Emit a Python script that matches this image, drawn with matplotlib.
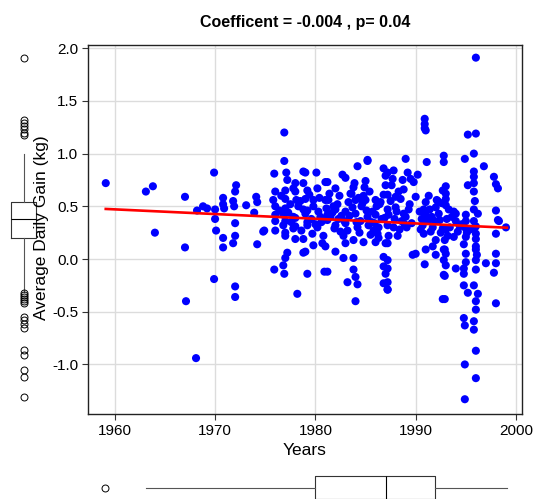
import numpy as np
import matplotlib
matplotlib.use('Agg')
import matplotlib.pyplot as plt

plt.rcParams['font.family'] = ['Liberation Sans', 'DejaVu Sans']
plt.rcParams['axes.unicode_minus'] = False

# datos (anio, ganancia diaria)
years = [
    1959.1, 1963.1, 1963.8, 1964.0, 1967.0, 1967.0, 1967.1, 1968.1, 1968.2, 1968.8,
    1969.2, 1969.9, 1970.0, 1970.0, 1970.1, 1969.9, 1970.8, 1970.8, 1970.9, 1970.8,
    1970.8, 1971.8, 1972.1, 1972.0, 1971.9, 1972.0, 1972.0, 1971.8, 1972.0, 1972.0,
    1973.1, 1974.1, 1974.2, 1973.9, 1974.2, 1974.9,
    # 1975 - 1981
    1976.9, 1976.9, 1975.9, 1977.1, 1977.2, 1978.8, 1980.1, 1981.0, 1978.0, 1978.8,
    1976.0, 1977.0, 1977.8, 1979.2, 1980.2, 1977.0, 1975.8, 1979.0, 1979.8, 1981.0,
    1976.0, 1977.0, 1978.8, 1979.8, 1976.0, 1976.8, 1977.8, 1979.0, 1980.5, 1981.2,
    1974.8, 1976.0, 1976.8, 1977.0, 1977.8, 1978.0, 1978.8, 1979.2, 1980.2, 1980.8,
    1980.7, 1979.8, 1978.8, 1981.0, 1977.2, 1977.0, 1976.8, 1975.9, 1976.9, 1979.2,
    1980.9, 1978.2, 1976.0, 1977.0, 1977.0, 1978.0, 1978.0, 1978.0, 1979.0, 1979.2,
    1979.2, 1979.0, 1978.5, 1980.3, 1980.6, 1977.5, 1976.4, 1979.6, 1980.0, 1981.1,
    1977.3, 1978.3, 1979.4, 1980.4, 1976.6, 1977.6, 1978.6, 1979.7, 1980.8, 1978.1,
    # 1981 - 1987
    1985.2, 1984.2, 1982.7, 1983.0, 1986.8, 1987.0, 1982.0, 1983.8, 1984.9, 1987.0,
    1981.2, 1981.3, 1983.3, 1984.0, 1985.0, 1986.0, 1986.8, 1982.0, 1983.0, 1984.0,
    1985.2, 1986.0, 1987.2, 1981.2, 1982.0, 1983.0, 1984.2, 1985.3, 1986.3, 1987.2,
    1982.8, 1983.8, 1984.8, 1986.0, 1987.0, 1983.0, 1982.0, 1982.8, 1983.8, 1986.8,
    1981.2, 1983.8, 1984.0, 1986.8, 1987.0, 1983.2, 1984.2, 1986.8, 1987.2, 1984.0,
    1985.2, 1982.4, 1983.5, 1984.6, 1985.7, 1986.4, 1981.7, 1982.3, 1983.4, 1984.5,
    1985.6, 1986.6, 1982.5, 1984.4, 1985.8, 1981.8, 1983.6, 1985.4, 1986.2, 1984.7,
    1981.5, 1982.2, 1982.9, 1983.7, 1984.3, 1985.1, 1985.9, 1986.5, 1981.9, 1982.6,
    1983.2, 1984.1, 1984.8, 1985.5, 1986.1, 1986.9, 1981.4, 1983.9, 1985.0, 1986.3,
    # 1987 - 1993
    1990.9, 1990.9, 1990.9, 1991.0, 1989.0, 1991.1, 1992.8, 1992.8, 1987.8, 1987.2,
    1989.2, 1990.2, 1988.7, 1989.8, 1989.5, 1987.7, 1988.3, 1988.8, 1987.2, 1990.0,
    1991.0, 1988.0, 1992.0, 1992.7, 1987.3, 1989.0, 1991.0, 1992.3, 1987.8, 1990.7,
    1991.7, 1992.7, 1987.3, 1988.2, 1990.8, 1992.0, 1987.2, 1991.7, 1990.0, 1989.7,
    1991.0, 1992.0, 1992.8, 1987.2, 1990.9, 1992.8, 1987.2, 1992.8, 1987.2, 1987.2,
    1992.7, 1988.5, 1989.4, 1991.4, 1992.4, 1988.6, 1990.6, 1991.3, 1992.2, 1988.9,
    1991.2, 1990.8, 1992.5, 1988.1, 1991.5, 1987.5, 1988.4, 1989.3, 1987.9, 1988.8,
    1989.6, 1991.6, 1992.1, 1990.5, 1991.9, 1987.6, 1988.0, 1989.1, 1992.6, 1990.4,
    # 1993 - 1999
    1996.0, 1995.2, 1996.0, 1995.8, 1994.9, 1996.8, 1995.8, 1995.8, 1997.8, 1998.0,
    1998.2, 1995.2, 1995.8, 1995.8, 1993.0, 1993.0, 1993.0, 1993.0, 1993.8, 1994.0,
    1995.8, 1996.2, 1998.0, 1998.2, 1998.3, 1995.0, 1995.8, 1996.0, 1994.0, 1994.2,
    1999.0, 1995.0, 1998.0, 1996.0, 1996.0, 1996.0, 1995.0, 1994.8, 1993.8, 1992.9,
    1992.9, 1998.0, 1996.0, 1996.0, 1995.0, 1995.0, 1994.8, 1994.8, 1997.0, 1998.0,
    1997.8, 1994.0, 1993.0, 1993.0, 1992.9, 1996.0, 1994.8, 1995.2, 1995.8, 1996.2,
    1996.0, 1996.0, 1998.0, 1992.9, 1994.8, 1994.9, 1995.8, 1995.8, 1996.0, 1994.9,
    1996.0, 1994.9, 1993.4, 1993.6, 1994.4, 1995.1, 1995.9, 1993.2, 1994.6, 1995.4,
    1993.1, 1993.3, 1995.9, 1996.1, 1993.0, 1995.0,
]

gain = [
    0.72, 0.64, 0.69, 0.25, 0.59, 0.11, -0.40, -0.94, 0.46, 0.50,
    0.48, 0.82, 0.47, 0.38, 0.27, -0.19, 0.58, 0.52, 0.48, 0.20,
    0.11, 0.55, 0.70, 0.64, 0.50, 0.34, 0.22, 0.15, -0.26, -0.36,
    0.51, 0.59, 0.54, 0.44, 0.14, 0.27,
    # 1975 - 1981
    1.20, 0.93, 0.81, 0.82, 0.75, 0.83, 0.82, 0.73, 0.72, 0.72,
    0.64, 0.65, 0.67, 0.65, 0.67, 0.57, 0.56, 0.57, 0.56, 0.56,
    0.50, 0.48, 0.47, 0.50, 0.42, 0.42, 0.40, 0.43, 0.40, 0.42,
    0.26, 0.27, 0.32, 0.22, 0.29, 0.19, 0.19, 0.32, 0.30, 0.22,
    0.15, 0.13, 0.06, 0.12, 0.06, 0.01, -0.06, -0.10, -0.14, -0.14,
    -0.12, -0.33, 0.36, 0.36, 0.25, 0.64, 0.39, 0.31, 0.82, 0.46,
    0.35, 0.07, 0.55, 0.45, 0.35, 0.52, 0.46, 0.38, 0.33, 0.48,
    0.44, 0.50, 0.61, 0.58, 0.60, 0.35, 0.27, 0.24, 0.37, 0.56,
    # 1981 - 1987
    0.94, 0.88, 0.80, 0.77, 0.86, 0.79, 0.67, 0.68, 0.68, 0.70,
    0.73, 0.56, 0.54, 0.56, 0.56, 0.56, 0.61, 0.47, 0.45, 0.43,
    0.40, 0.42, 0.47, 0.37, 0.32, 0.34, 0.30, 0.32, 0.30, 0.32,
    0.22, 0.18, 0.16, 0.16, 0.15, 0.15, 0.07, 0.01, 0.01, 0.02,
    -0.12, -0.10, -0.17, -0.07, -0.14, -0.22, -0.24, -0.23, -0.29, -0.40,
    0.93, 0.60, 0.62, 0.50, 0.45, 0.52, 0.44, 0.38, 0.41, 0.36,
    0.35, 0.38, 0.26, 0.25, 0.27, 0.50, 0.62, 0.64, 0.24, 0.53,
    0.40, 0.52, 0.36, 0.49, 0.58, 0.46, 0.34, 0.54, 0.29, 0.41,
    0.27, 0.35, 0.60, 0.23, 0.50, 0.39, 0.62, 0.72, 0.74, 0.20,
    # 1987 - 1993
    1.33, 1.28, 1.24, 1.22, 0.95, 0.92, 0.98, 0.92, 0.84, 0.82,
    0.82, 0.80, 0.75, 0.73, 0.76, 0.76, 0.64, 0.66, 0.61, 0.59,
    0.54, 0.49, 0.49, 0.65, 0.42, 0.40, 0.42, 0.43, 0.30, 0.32,
    0.30, 0.29, 0.22, 0.22, 0.24, 0.18, 0.15, 0.12, 0.05, 0.04,
    0.09, 0.04, 0.09, -0.01, -0.05, -0.01, -0.09, -0.15, -0.22, -0.29,
    -0.38, 0.57, 0.52, 0.47, 0.37, 0.36, 0.38, 0.60, 0.55, 0.33,
    0.36, 0.47, 0.25, 0.45, 0.26, 0.55, 0.28, 0.47, 0.38, 0.43,
    0.34, 0.40, 0.56, 0.28, 0.36, 0.70, 0.59, 0.30, 0.53, 0.45,
    # 1993 - 1999
    1.91, 1.18, 1.19, 1.00, 0.95, 0.88, 0.83, 0.78, 0.78, 0.71,
    0.67, 0.70, 0.72, 0.64, 0.69, 0.62, 0.57, 0.51, 0.45, 0.43,
    0.47, 0.43, 0.46, 0.37, 0.36, 0.36, 0.36, 0.31, 0.36, 0.26,
    0.30, 0.29, 0.24, 0.24, 0.19, 0.12, 0.21, 0.14, 0.21, 0.18,
    0.09, 0.05, 0.09, -0.01, 0.05, -0.03, -0.09, -0.14, -0.04, -0.04,
    -0.13, -0.09, 0.05, -0.06, -0.16, -0.10, -0.25, -0.32, -0.25, -0.33,
    -0.40, -0.48, -0.42, -0.38, -0.56, -0.63, -0.59, -0.67, -0.87, -1.00,
    -1.13, -1.33, 0.30, 0.40, 0.31, 0.25, 0.30, 0.22, 0.33, 0.28,
    0.38, 0.47, 0.55, 0.04, 0.28, 0.42,
]

# recta de regresion (extremos leidos)
fit_years = [1959.1, 1999.1]
fit_gain = [0.475, 0.297]

# resumen de los diagramas de caja marginales
gain_box = dict(med=0.376, q1=0.20, q3=0.54, whislo=-0.31, whishi=1.00,
                fliers=[1.91, 1.32, 1.29, 1.26, 1.23, 1.20, 1.18,
                        -0.32, -0.34, -0.36, -0.38, -0.40, -0.42,
                        -0.55, -0.58, -0.62, -0.65, -0.86, -0.91,
                        -1.05, -1.12, -1.31])
year_box = dict(med=1987.07, q1=1980.0, q3=1991.93, whislo=1963.07, whishi=1999.07,
                fliers=[1959.0])

W, H = 533, 499
fig = plt.figure(figsize=(W / 100, H / 100), dpi=100)

# grafico principal
ax = fig.add_axes([88 / W, 1 - 414 / H, 434 / W, 369 / H])
ax.scatter(years, gain, s=34, color='#0000FF', edgecolors='none', zorder=3)
ax.plot(fit_years, fit_gain, color='#FF0000', linewidth=1.9, zorder=4)
ax.set_xlim(1957.33, 2000.6)
ax.set_ylim(-1.47, 2.03)
ax.set_xticks([1960, 1970, 1980, 1990, 2000])
ax.set_yticks([-1.0, -0.5, 0.0, 0.5, 1.0, 1.5, 2.0])
ax.set_yticklabels(['%.1f' % v for v in [-1.0, -0.5, 0.0, 0.5, 1.0, 1.5, 2.0]])
ax.grid(True, color='#DCDCDC', linewidth=1.0)
ax.set_axisbelow(True)
ax.tick_params(labelsize=11, length=4, width=0.8, pad=3, color='#333333')
for s in ax.spines.values():
    s.set_color('#222222')
    s.set_linewidth(1.0)
ax.set_title('Coefficent = -0.004 , p= 0.04', fontsize=11.5, fontweight='bold', pad=13)
ax.set_xlabel('Years', fontsize=12.5, labelpad=4)
fig.text(42 / W, 1 - 228 / H, 'Average Daily Gain (kg)', rotation=90,
         ha='center', va='center', fontsize=12.5)

box_props = dict(boxprops=dict(color='#333333', linewidth=0.8),
                 whiskerprops=dict(color='#555555', linewidth=0.8),
                 medianprops=dict(color='black', linewidth=0.8),
                 flierprops=dict(marker='o', markerfacecolor='none', markeredgecolor='black',
                                 markersize=5, markeredgewidth=0.7),
                 showcaps=False)

# caja vertical (ganancia)
axl = fig.add_axes([0, 1 - 414 / H, 47 / W, 369 / H])
axl.bxp([gain_box], positions=[23.5], widths=[25], vert=True, **box_props)
axl.set_xlim(0, 47)
axl.set_ylim(-1.47, 2.03)
axl.axis('off')
axl.patch.set_alpha(0)

# caja horizontal (anios)
axb = fig.add_axes([88 / W, 0, 434 / W, 30 / H])
axb.bxp([year_box], positions=[11.3], widths=[23.4], vert=False, **box_props)
axb.set_xlim(1957.33, 2000.6)
axb.set_ylim(0, 30)
axb.axis('off')

fig.savefig('out.png', dpi=100)
